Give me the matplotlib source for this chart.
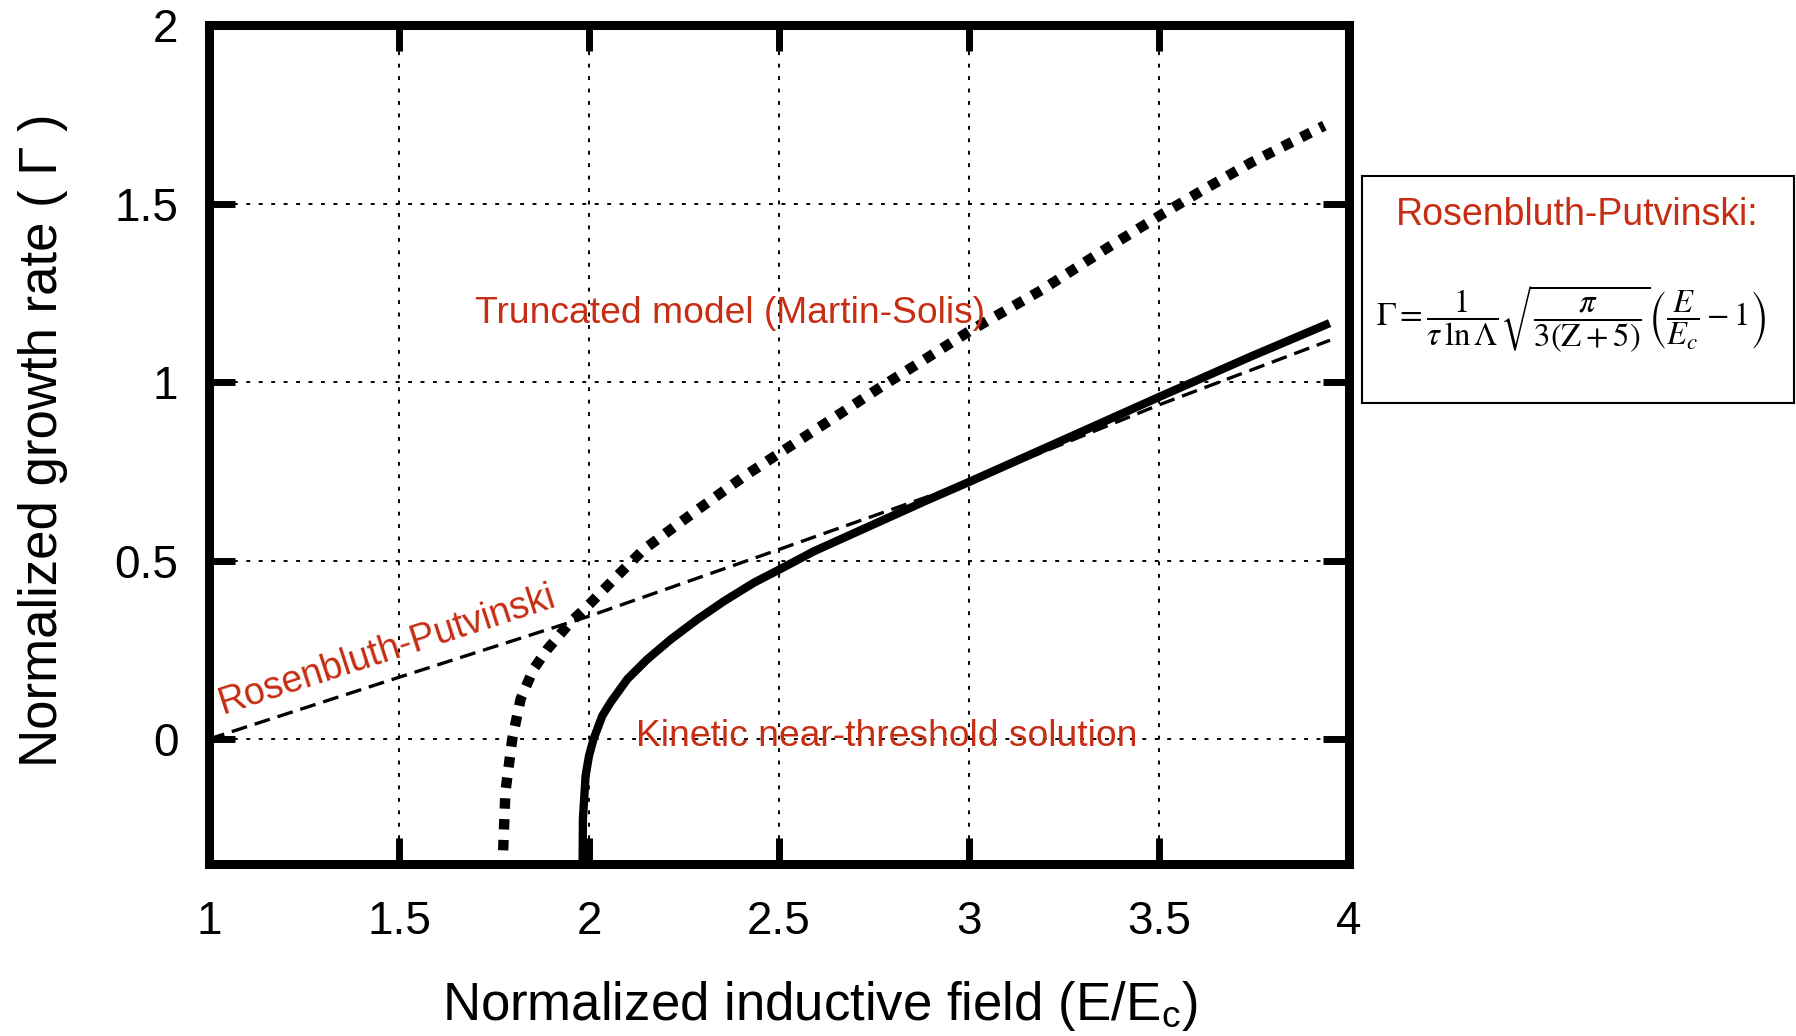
import matplotlib
matplotlib.use('Agg')
import matplotlib.pyplot as plt
import numpy as np

plt.rcParams['font.family'] = ['Liberation Sans', 'DejaVu Sans']
plt.rcParams['mathtext.fontset'] = 'stix'

# growth rate curves, E/Ec vs Gamma
E_rp = [1.0, 1.5, 2.0, 2.5, 3.0, 3.5, 3.95]
G_rp = [0.0, 0.173, 0.344, 0.531, 0.72, 0.936, 1.117]

E_kin = [1.983, 1.984, 1.991, 2.0, 2.012, 2.035, 2.057, 2.101, 2.153, 2.215,
         2.285, 2.355, 2.434, 2.505, 2.592, 2.715, 2.892, 3.0, 3.24, 3.5,
         3.743, 3.949]
G_kin = [-0.37, -0.223, -0.103, -0.047, 0.0, 0.065, 0.103, 0.168, 0.223, 0.279,
         0.335, 0.386, 0.438, 0.477, 0.526, 0.585, 0.67, 0.72, 0.834, 0.958,
         1.072, 1.165]

E_tr = [1.772, 1.78, 1.798, 1.82, 1.854, 1.89, 1.951, 1.996, 2.065, 2.144,
        2.275, 2.407, 2.5, 2.636, 2.768, 3.005, 3.19, 3.366, 3.511, 3.611,
        3.743, 3.935]
G_tr = [-0.37, -0.148, 0.0, 0.112, 0.196, 0.251, 0.327, 0.372, 0.447, 0.531,
        0.634, 0.735, 0.80, 0.894, 0.986, 1.145, 1.257, 1.377, 1.472, 1.535,
        1.615, 1.718]

xticks = [1, 1.5, 2, 2.5, 3, 3.5, 4]
yticks = [0, 0.5, 1, 1.5, 2]
red = '#c62d12'

W, H = 1796, 1036
fig = plt.figure(figsize=(W/100, H/100), dpi=100)
ax = fig.add_axes([209/W, 1-864/H, (1349-209)/W, (864-25)/H])

ax.plot(E_rp, G_rp, color='black', lw=2.4, linestyle=(0, (4.8, 2.4)))
ax.plot(E_kin, G_kin, color='black', lw=6, solid_capstyle='butt')
ax.plot(E_tr, G_tr, color='black', lw=7.5, linestyle=(0, (1, 1.0)))

ax.set_xlim(1, 4)
ax.set_ylim(-0.35, 2)
ax.set_xticks(xticks)
ax.set_xticklabels(['1', '1.5', '2', '2.5', '3', '3.5', '4'])
ax.set_yticks(yticks)
ax.set_yticklabels(['0', '0.5', '1', '1.5', '2'])
ax.grid(True, color='black', lw=1.4, linestyle=(0, (2, 4.4)))

for s in ax.spines.values():
    s.set_linewidth(6.5)
ax.tick_params(which='major', direction='in', length=19, width=5,
               top=True, right=True, labelsize=33)
ax.tick_params(axis='x', pad=26)
ax.tick_params(axis='y', pad=22)

ax.text(1.701, 1.165, 'Truncated model (Martin-Solis)', color=red,
        fontsize=26.8, va='baseline', ha='left')
ax.text(2.1225, -0.02, 'Kinetic near-threshold solution', color=red,
        fontsize=26.8, va='baseline', ha='left')
ax.text(1.037, 0.07, 'Rosenbluth-Putvinski', color=red, fontsize=27,
        va='baseline', ha='left', rotation=18, rotation_mode='anchor')

fig.text(820/W, 1-1020/H, r'Normalized inductive field (E/E$_{\mathregular{c}}$)',
         fontsize=38, ha='center', va='baseline')
fig.text(57/W, 1-440/H, 'Normalized growth rate ( Γ )', fontsize=38,
         rotation=90, ha='center', va='baseline', rotation_mode='anchor')

# formula box
box = fig.add_axes([1362/W, 1-403/H, 432/W, 227/H])
box.set_xticks([])
box.set_yticks([])
for s in box.spines.values():
    s.set_linewidth(1.5)
box.text(0.498, 0.83, 'Rosenbluth-Putvinski:', color=red, fontsize=27,
         ha='center', va='center', transform=box.transAxes)
box.text(0.485, 0.37,
         r'$\Gamma = \dfrac{1}{\tau\,\ln\Lambda}\sqrt{\dfrac{\pi}{3(\mathrm{Z}+5)}}\left(\dfrac{E}{E_c}-1\right)$',
         fontsize=23.5, ha='center', va='center', transform=box.transAxes)

fig.savefig('out.png', dpi=100)
